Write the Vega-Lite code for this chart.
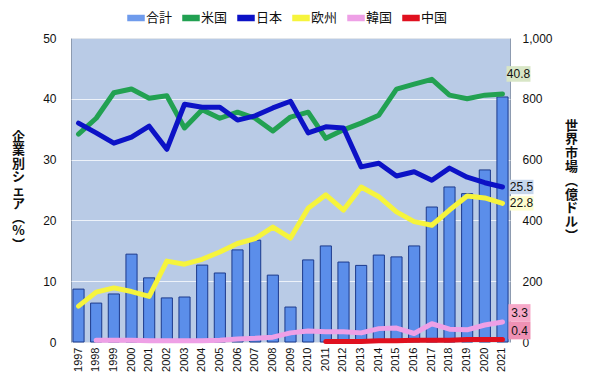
{
  "$schema": "https://vega.github.io/schema/vega-lite/v6.json",
  "width": 439,
  "height": 304,
  "autosize": {"type": "none"},
  "padding": {"left": 71, "top": 38, "right": 80, "bottom": 40},
  "background": "white",
  "config": {
    "font": "Liberation Sans, Noto Sans CJK JP",
    "view": {"fill": "#b9cbe6", "stroke": "#8d9bb0", "strokeWidth": 1},
    "axis": {"labelFont": "Liberation Sans", "labelColor": "#111", "labelFontSize": 12, "domain": false, "ticks": false}
  },
  "datasets": {
    "market": [
      {"year": "1997", "market": 174}, {"year": "1998", "market": 128}, {"year": "1999", "market": 158},
      {"year": "2000", "market": 289}, {"year": "2001", "market": 211}, {"year": "2002", "market": 145},
      {"year": "2003", "market": 148}, {"year": "2004", "market": 253}, {"year": "2005", "market": 227},
      {"year": "2006", "market": 303}, {"year": "2007", "market": 335}, {"year": "2008", "market": 220},
      {"year": "2009", "market": 115}, {"year": "2010", "market": 270}, {"year": "2011", "market": 316},
      {"year": "2012", "market": 263}, {"year": "2013", "market": 252}, {"year": "2014", "market": 286},
      {"year": "2015", "market": 280}, {"year": "2016", "market": 316}, {"year": "2017", "market": 444},
      {"year": "2018", "market": 510}, {"year": "2019", "market": 488}, {"year": "2020", "market": 566},
      {"year": "2021", "market": 806}
    ],
    "share": [
      {"series": "米国", "year": "1997", "share": 34.2}, {"series": "米国", "year": "1998", "share": 36.8},
      {"series": "米国", "year": "1999", "share": 41.0}, {"series": "米国", "year": "2000", "share": 41.6},
      {"series": "米国", "year": "2001", "share": 40.1}, {"series": "米国", "year": "2002", "share": 40.5},
      {"series": "米国", "year": "2003", "share": 35.2}, {"series": "米国", "year": "2004", "share": 38.2},
      {"series": "米国", "year": "2005", "share": 36.8}, {"series": "米国", "year": "2006", "share": 37.8},
      {"series": "米国", "year": "2007", "share": 36.8}, {"series": "米国", "year": "2008", "share": 34.7},
      {"series": "米国", "year": "2009", "share": 37.0}, {"series": "米国", "year": "2010", "share": 37.8},
      {"series": "米国", "year": "2011", "share": 33.5}, {"series": "米国", "year": "2012", "share": 34.9},
      {"series": "米国", "year": "2013", "share": 36.0}, {"series": "米国", "year": "2014", "share": 37.3},
      {"series": "米国", "year": "2015", "share": 41.6}, {"series": "米国", "year": "2016", "share": 42.4},
      {"series": "米国", "year": "2017", "share": 43.2}, {"series": "米国", "year": "2018", "share": 40.6},
      {"series": "米国", "year": "2019", "share": 40.0}, {"series": "米国", "year": "2020", "share": 40.6},
      {"series": "米国", "year": "2021", "share": 40.8},
      {"series": "日本", "year": "1997", "share": 36.0}, {"series": "日本", "year": "1998", "share": 34.4},
      {"series": "日本", "year": "1999", "share": 32.7}, {"series": "日本", "year": "2000", "share": 33.7},
      {"series": "日本", "year": "2001", "share": 35.5}, {"series": "日本", "year": "2002", "share": 31.7},
      {"series": "日本", "year": "2003", "share": 39.1}, {"series": "日本", "year": "2004", "share": 38.6},
      {"series": "日本", "year": "2005", "share": 38.6}, {"series": "日本", "year": "2006", "share": 36.5},
      {"series": "日本", "year": "2007", "share": 37.2}, {"series": "日本", "year": "2008", "share": 38.5},
      {"series": "日本", "year": "2009", "share": 39.6}, {"series": "日本", "year": "2010", "share": 34.4},
      {"series": "日本", "year": "2011", "share": 35.4}, {"series": "日本", "year": "2012", "share": 35.2},
      {"series": "日本", "year": "2013", "share": 28.8}, {"series": "日本", "year": "2014", "share": 29.4},
      {"series": "日本", "year": "2015", "share": 27.3}, {"series": "日本", "year": "2016", "share": 28.0},
      {"series": "日本", "year": "2017", "share": 26.6}, {"series": "日本", "year": "2018", "share": 28.6},
      {"series": "日本", "year": "2019", "share": 27.1}, {"series": "日本", "year": "2020", "share": 26.2},
      {"series": "日本", "year": "2021", "share": 25.5},
      {"series": "欧州", "year": "1997", "share": 5.9}, {"series": "欧州", "year": "1998", "share": 8.2},
      {"series": "欧州", "year": "1999", "share": 8.9}, {"series": "欧州", "year": "2000", "share": 8.3},
      {"series": "欧州", "year": "2001", "share": 7.5}, {"series": "欧州", "year": "2002", "share": 13.3},
      {"series": "欧州", "year": "2003", "share": 12.8}, {"series": "欧州", "year": "2004", "share": 13.6},
      {"series": "欧州", "year": "2005", "share": 14.8}, {"series": "欧州", "year": "2006", "share": 16.2},
      {"series": "欧州", "year": "2007", "share": 17.0}, {"series": "欧州", "year": "2008", "share": 18.9},
      {"series": "欧州", "year": "2009", "share": 17.1}, {"series": "欧州", "year": "2010", "share": 22.0},
      {"series": "欧州", "year": "2011", "share": 24.2}, {"series": "欧州", "year": "2012", "share": 21.7},
      {"series": "欧州", "year": "2013", "share": 25.5}, {"series": "欧州", "year": "2014", "share": 23.9},
      {"series": "欧州", "year": "2015", "share": 21.4}, {"series": "欧州", "year": "2016", "share": 19.8},
      {"series": "欧州", "year": "2017", "share": 19.2}, {"series": "欧州", "year": "2018", "share": 21.7},
      {"series": "欧州", "year": "2019", "share": 24.0}, {"series": "欧州", "year": "2020", "share": 23.7},
      {"series": "欧州", "year": "2021", "share": 22.8},
      {"series": "韓国", "year": "1998", "share": 0.3}, {"series": "韓国", "year": "1999", "share": 0.3},
      {"series": "韓国", "year": "2000", "share": 0.3}, {"series": "韓国", "year": "2001", "share": 0.2},
      {"series": "韓国", "year": "2002", "share": 0.2}, {"series": "韓国", "year": "2003", "share": 0.2},
      {"series": "韓国", "year": "2004", "share": 0.2}, {"series": "韓国", "year": "2005", "share": 0.3},
      {"series": "韓国", "year": "2006", "share": 0.5}, {"series": "韓国", "year": "2007", "share": 0.6},
      {"series": "韓国", "year": "2008", "share": 0.8}, {"series": "韓国", "year": "2009", "share": 1.5},
      {"series": "韓国", "year": "2010", "share": 1.8}, {"series": "韓国", "year": "2011", "share": 1.7},
      {"series": "韓国", "year": "2012", "share": 1.7}, {"series": "韓国", "year": "2013", "share": 1.5},
      {"series": "韓国", "year": "2014", "share": 2.2}, {"series": "韓国", "year": "2015", "share": 2.3},
      {"series": "韓国", "year": "2016", "share": 1.4}, {"series": "韓国", "year": "2017", "share": 3.0},
      {"series": "韓国", "year": "2018", "share": 2.1}, {"series": "韓国", "year": "2019", "share": 2.0},
      {"series": "韓国", "year": "2020", "share": 2.8}, {"series": "韓国", "year": "2021", "share": 3.3},
      {"series": "中国", "year": "2011", "share": 0.1}, {"series": "中国", "year": "2012", "share": 0.1},
      {"series": "中国", "year": "2013", "share": 0.1}, {"series": "中国", "year": "2014", "share": 0.2},
      {"series": "中国", "year": "2015", "share": 0.2}, {"series": "中国", "year": "2016", "share": 0.3},
      {"series": "中国", "year": "2017", "share": 0.3}, {"series": "中国", "year": "2018", "share": 0.3},
      {"series": "中国", "year": "2019", "share": 0.4}, {"series": "中国", "year": "2020", "share": 0.4},
      {"series": "中国", "year": "2021", "share": 0.4}
    ],
    "labels": [
      {"series": "米国", "year": "2021", "share": 40.8, "label": "40.8", "box": "#d8e6c6"},
      {"series": "日本", "year": "2021", "share": 25.5, "label": "25.5", "box": "#c6d6ec"},
      {"series": "欧州", "year": "2021", "share": 22.8, "label": "22.8", "box": "#fdfdcf"},
      {"series": "韓国", "year": "2021", "share": 3.3, "label": "3.3", "box": "#f6a9c9"},
      {"series": "中国", "year": "2021", "share": 0.4, "label": "0.4", "box": "#ef91b4"}
    ]
  },
  "layer": [
    {
      "data": {"name": "market"},
      "mark": {"type": "bar", "fill": "#5b8eea", "stroke": "#1c3a8c", "strokeWidth": 1},
      "encoding": {
        "x": {"field": "year", "type": "ordinal", "scale": {"paddingInner": 0.37, "paddingOuter": 0.11},
              "axis": {"title": null, "labelAngle": -90, "labelFontSize": 11, "labelPadding": 5, "labelColor": "#111"}},
        "y": {"field": "market", "type": "quantitative", "scale": {"domain": [0, 1000]},
              "axis": {"orient": "right", "values": [0, 200, 400, 600, 800, 1000], "format": ",.0f", "grid": false,
                       "labelAlign": "left", "labelPadding": 12,
                       "title": ["世", "界", "市", "場", "︵", "億", "ド", "ル", "︶"],
                       "titleAngle": 0, "titleX": 61, "titleY": 81, "titleAlign": "center", "titleBaseline": "top",
                       "titleFont": "Noto Sans CJK JP", "titleFontSize": 13, "titleFontWeight": "bold", "titleLineHeight": 13.8, "titleColor": "#111"}},
        "color": {"datum": "合計", "type": "nominal",
                  "scale": {"domain": ["合計", "米国", "日本", "欧州", "韓国", "中国"],
                            "range": ["#6f9bec", "#22a152", "#0c12c6", "#f6f43c", "#eea0e6", "#e0101f"]},
                  "legend": {"orient": "none", "legendX": 56, "legendY": -29, "direction": "horizontal", "title": null,
                             "symbolType": "M-1,-0.3H1V0.3H-1Z", "symbolSize": 256, "labelFontSize": 13,
                             "labelFont": "Noto Sans CJK JP", "labelColor": "#111", "labelOffset": 1, "columnPadding": 7,
                             "encode": {"symbols": {"update": {
                               "fill": {"scale": "color", "field": "value"},
                               "stroke": {"signal": "datum.value === '合計' ? '#1c3a8c' : 'transparent'"},
                               "strokeWidth": {"value": 1}, "opacity": {"value": 1}}}}}}
      }
    },
    {
      "layer": [
        {
          "data": {"name": "share"},
          "mark": {"type": "line", "strokeWidth": 5, "strokeJoin": "round", "strokeCap": "round"},
          "encoding": {
            "x": {"field": "year", "type": "ordinal"},
            "y": {"field": "share", "type": "quantitative", "scale": {"domain": [0, 50]},
                  "axis": {"orient": "left", "values": [0, 10, 20, 30, 40, 50], "grid": true, "gridColor": "#ffffff", "gridOpacity": 0.75,
                           "labelPadding": 15,
                           "title": ["企", "業", "別", "シ", "ェ", "ア", "︵", "%", "︶"],
                           "titleAngle": 0, "titleX": -53, "titleY": 92, "titleAlign": "center", "titleBaseline": "top",
                           "titleFont": "Noto Sans CJK JP", "titleFontSize": 13, "titleFontWeight": "bold", "titleLineHeight": 13.5, "titleColor": "#111"}},
            "color": {"field": "series", "type": "nominal",
                      "scale": {"domain": ["合計", "米国", "日本", "欧州", "韓国", "中国"],
                                "range": ["#6f9bec", "#22a152", "#0c12c6", "#f6f43c", "#eea0e6", "#e0101f"]},
                      "legend": {"title": null}},
            "order": {"field": "year"}
          }
        },
        {
          "data": {"name": "labels"},
          "transform": [{"filter": "datum.series === '日本' || datum.series === '欧州'"}],
          "layer": [
            {"mark": {"type": "point", "shape": "M-1,-0.6H1V0.6H-1Z", "size": 576, "filled": true, "opacity": 1, "strokeWidth": 0, "xOffset": 19},
             "encoding": {"x": {"field": "year", "type": "ordinal"}, "y": {"field": "share", "type": "quantitative"},
                          "fill": {"field": "box", "type": "nominal", "scale": null}}},
            {"mark": {"type": "text", "fontSize": 12, "color": "#111", "dx": 19, "align": "center", "baseline": "middle"},
             "encoding": {"x": {"field": "year", "type": "ordinal"}, "y": {"field": "share", "type": "quantitative"},
                          "text": {"field": "label"}}}
          ]
        },
        {
          "data": {"name": "labels"},
          "transform": [{"filter": "datum.series === '米国'"}],
          "layer": [
            {"mark": {"type": "point", "shape": "M-1,-0.65H1V0.65H-1Z", "size": 576, "filled": true, "opacity": 1, "strokeWidth": 0, "xOffset": 16, "yOffset": -20},
             "encoding": {"x": {"field": "year", "type": "ordinal"}, "y": {"field": "share", "type": "quantitative"},
                          "fill": {"field": "box", "type": "nominal", "scale": null}}},
            {"mark": {"type": "text", "fontSize": 12, "color": "#111", "dx": 16, "dy": -20, "align": "center", "baseline": "middle"},
             "encoding": {"x": {"field": "year", "type": "ordinal"}, "y": {"field": "share", "type": "quantitative"},
                          "text": {"field": "label"}}}
          ]
        },
        {
          "data": {"name": "labels"},
          "transform": [{"filter": "datum.series === '韓国' || datum.series === '中国'"}],
          "layer": [
            {"mark": {"type": "point", "shape": "M-1,-0.8H1V0.8H-1Z", "size": 484, "filled": true, "opacity": 1, "strokeWidth": 0, "xOffset": 17, "yOffset": -9},
             "encoding": {"x": {"field": "year", "type": "ordinal"}, "y": {"field": "share", "type": "quantitative"},
                          "fill": {"field": "box", "type": "nominal", "scale": null}}},
            {"mark": {"type": "text", "fontSize": 12, "color": "#111", "dx": 17, "dy": -9, "align": "center", "baseline": "middle"},
             "encoding": {"x": {"field": "year", "type": "ordinal"}, "y": {"field": "share", "type": "quantitative"},
                          "text": {"field": "label"}}}
          ]
        }
      ]
    }
  ],
  "resolve": {"scale": {"y": "independent"}}
}
